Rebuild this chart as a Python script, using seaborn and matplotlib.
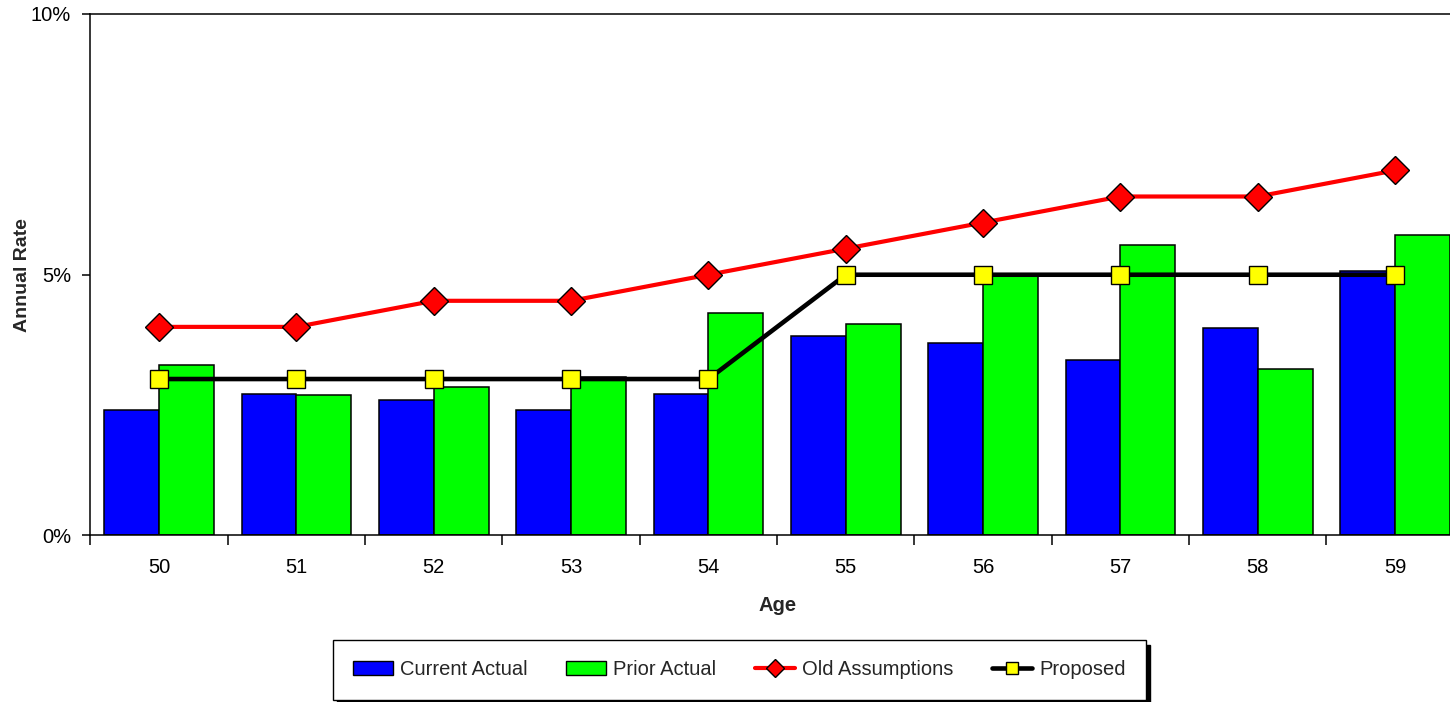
import matplotlib
matplotlib.use("Agg")
import matplotlib.pyplot as plt
from matplotlib.patches import Patch
from matplotlib.lines import Line2D
from matplotlib.ticker import PercentFormatter, FixedLocator
import seaborn as sns
import pandas as pd

# Annual rates (%) by age
ages = ["50", "51", "52", "53", "54", "55", "56", "57", "58", "59"]
current_actual = [2.41, 2.72, 2.59, 2.41, 2.72, 3.82, 3.70, 3.37, 3.98, 5.08]
prior_actual = [3.26, 2.70, 2.85, 3.03, 4.26, 4.05, 5.00, 5.57, 3.20, 5.76]
old_assumptions = [4.0, 4.0, 4.5, 4.5, 5.0, 5.5, 6.0, 6.5, 6.5, 7.0]
proposed = [3.0, 3.0, 3.0, 3.0, 3.0, 5.0, 5.0, 5.0, 5.0, 5.0]

series_names = ["Current Actual", "Prior Actual", "Old Assumptions", "Proposed"]

sns.set_theme(style="white")
plt.rcParams["font.family"] = ["Liberation Sans", "DejaVu Sans"]

bars = pd.DataFrame({
    "Age": ages * 2,
    "Rate": current_actual + prior_actual,
    "Series": [series_names[0]] * len(ages) + [series_names[1]] * len(ages),
})

fig = plt.figure(figsize=(14.5, 7.02), dpi=100)
ax = fig.add_axes([0.0624, 0.2372, 0.9471, 0.7429])

sns.barplot(data=bars, x="Age", y="Rate", hue="Series", order=ages,
            hue_order=series_names[:2], palette=["#0000FF", "#00FF00"],
            saturation=1, edgecolor="black", linewidth=1.1, width=0.8,
            legend=False, ax=ax)

xpos = list(range(len(ages)))
ax.plot(xpos, old_assumptions, color="#FF0000", lw=3.0, marker="D", ms=14,
        mfc="#FF0000", mec="black", mew=1.0, zorder=5)
ax.plot(xpos, proposed, color="black", lw=3.3, marker="s", ms=13.5,
        mfc="#FFFF00", mec="black", mew=1.0, zorder=6)

ax.set_xlim(-0.5, len(ages) - 0.5)
ax.set_ylim(0, 10)
ax.yaxis.set_major_locator(FixedLocator([0, 5, 10]))
ax.yaxis.set_major_formatter(PercentFormatter(xmax=100, decimals=0))
ax.xaxis.set_minor_locator(FixedLocator([i - 0.5 for i in range(len(ages) + 1)]))

ax.tick_params(axis="x", which="major", length=0, pad=16, labelsize=14.5, colors="black")
ax.tick_params(axis="x", which="minor", length=7, width=1.1, direction="out",
               bottom=True, color="black")
ax.tick_params(axis="y", which="major", length=6, width=1.1, direction="out",
               left=True, pad=8, labelsize=14.5, colors="black")

for side in ["left", "bottom", "top", "right"]:
    ax.spines[side].set_color("black")
    ax.spines[side].set_linewidth(1.1)

ax.set_xlabel("Age", fontsize=14.5, fontweight="bold", labelpad=14)
ax.set_ylabel("Annual Rate", fontsize=14, fontweight="bold", labelpad=0)

handles = [
    Patch(facecolor="#0000FF", edgecolor="black", lw=1.0),
    Patch(facecolor="#00FF00", edgecolor="black", lw=1.0),
    Line2D([], [], color="#FF0000", lw=3.0, marker="D", ms=9,
           mfc="#FF0000", mec="black", mew=1.0),
    Line2D([], [], color="black", lw=3.3, marker="s", ms=9,
           mfc="#FFFF00", mec="black", mew=1.0),
]
leg = fig.legend(handles, series_names, loc="center", bbox_to_anchor=(0.5097, 0.0456),
                 ncol=4, fontsize=14.5, frameon=True, fancybox=False,
                 edgecolor="black", handlelength=2.0, handleheight=0.7,
                 handletextpad=0.35, columnspacing=1.9, borderpad=1.0,
                 shadow={"ox": 3, "oy": -3, "color": "black", "alpha": 1})
leg.get_frame().set_linewidth(1.0)

fig.savefig("out.png", dpi=100)
